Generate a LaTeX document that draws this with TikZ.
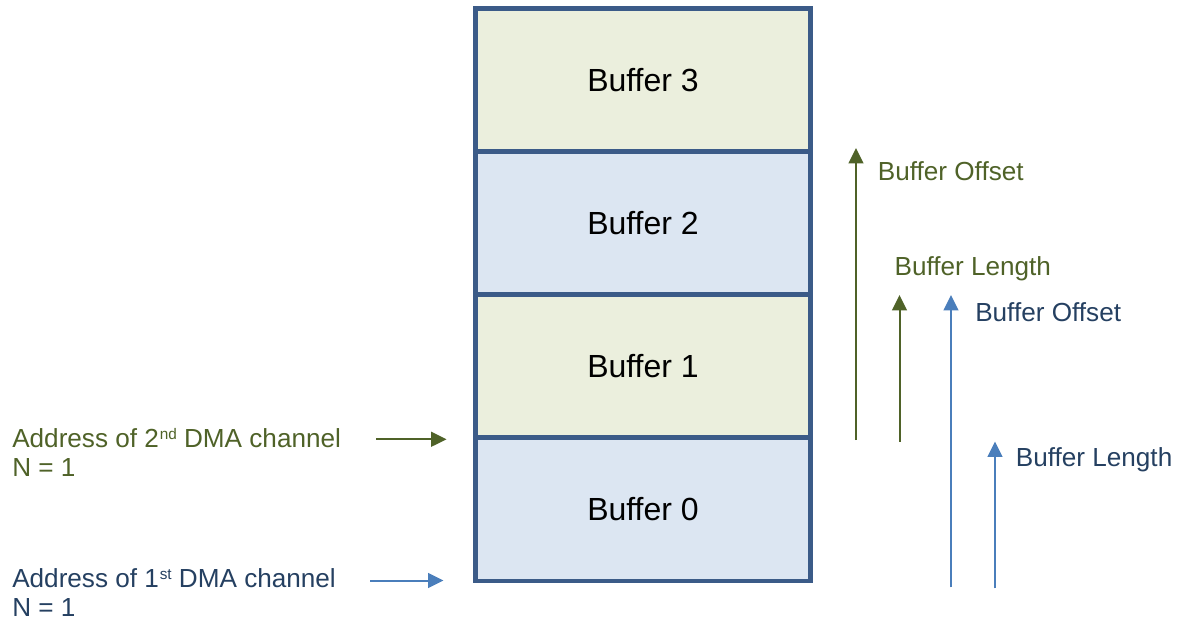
\documentclass[tikz,border=0pt]{standalone}
\usepackage{fontspec}
\setmainfont{Liberation Sans}
\usetikzlibrary{arrows.meta}
\definecolor{bordercol}{HTML}{3B5B88}
\definecolor{greenfill}{HTML}{EBEFDD}
\definecolor{bluefill}{HTML}{DCE6F2}
\definecolor{olive}{HTML}{4F6228}
\definecolor{bluearrow}{HTML}{4A7EBB}
\definecolor{bluetext}{HTML}{254061}
% small raised ordinal suffix
\newcommand\ordsuffix[1]{\kern0.6pt\raisebox{5.6pt}{\fontsize{11.5}{12}\selectfont #1}}
\tikzset{
  bufbox/.style={draw=bordercol, line width=3.6pt, minimum width=251.25pt,
    minimum height=107.25pt, inner sep=0pt, outer sep=0pt,
    font=\fontsize{24}{28}\selectfont},
  addrlabel/.style={anchor=base west, align=left, inner sep=0pt,
    font=\fontsize{19.6}{22}\selectfont},
  sidelabel/.style={anchor=base west, inner sep=0pt, font=\fontsize{19.6}{22}\selectfont},
  garrow/.style={draw=olive, line width=1.5pt, -{Triangle[length=11.5pt,width=11pt]}},
  barrow/.style={draw=bluearrow, line width=1.5pt, -{Triangle[length=11.5pt,width=11pt]}}
}
\begin{document}
\begin{tikzpicture}[x=0.75pt,y=-0.75pt]
\useasboundingbox (0,0) rectangle (1179,621);

% stacked buffers
\node[bufbox, fill=greenfill] (buf3) at (643,80)    {Buffer 3};
\node[bufbox, fill=bluefill]  (buf2) at (643,223)   {Buffer 2};
\node[bufbox, fill=greenfill] (buf1) at (643,366)   {Buffer 1};
\node[bufbox, fill=bluefill]  (buf0) at (643,509.5) {Buffer 0};

% start addresses of the two channels (anchored at the last line's baseline)
\node[addrlabel, text=olive] (addr2) at (12,476.7)
  {Address of 2\ordsuffix{nd} DMA channel\\N = 1};
\node[addrlabel, text=bluetext] (addr1) at (12,616.5)
  {Address of 1\ordsuffix{st} DMA channel\\N = 1};

\coordinate (a2s) at (376,439.3);
\coordinate (a2e) at (446.5,439.3);
\coordinate (a1s) at (370,580.5);
\coordinate (a1e) at (443.5,580.5);
\draw[garrow] (a2s) -- (a2e);
\draw[barrow] (a1s) -- (a1e);

% offset and length of the second channel
\coordinate (go0) at (856,440);
\coordinate (go1) at (856,148);
\coordinate (gl0) at (899.5,441.5);
\coordinate (gl1) at (899.5,295);
\draw[garrow] (go0) -- (go1);
\draw[garrow] (gl0) -- (gl1);
\node[sidelabel, text=olive] (goff) at (877.6,180.7) {Buffer Offset};
\node[sidelabel, text=olive] (glen) at (894.3,275) {Buffer Length};

% offset and length of the first channel
\coordinate (bo0) at (951,587.3);
\coordinate (bo1) at (951,295);
\coordinate (bl0) at (995,588.3);
\coordinate (bl1) at (995,441.5);
\draw[barrow] (bo0) -- (bo1);
\draw[barrow] (bl0) -- (bl1);
\node[sidelabel, text=bluetext] (boff) at (975,321.7) {Buffer Offset};
\node[sidelabel, text=bluetext] (blen) at (1015.6,466.7) {Buffer Length};
\end{tikzpicture}
\end{document}
